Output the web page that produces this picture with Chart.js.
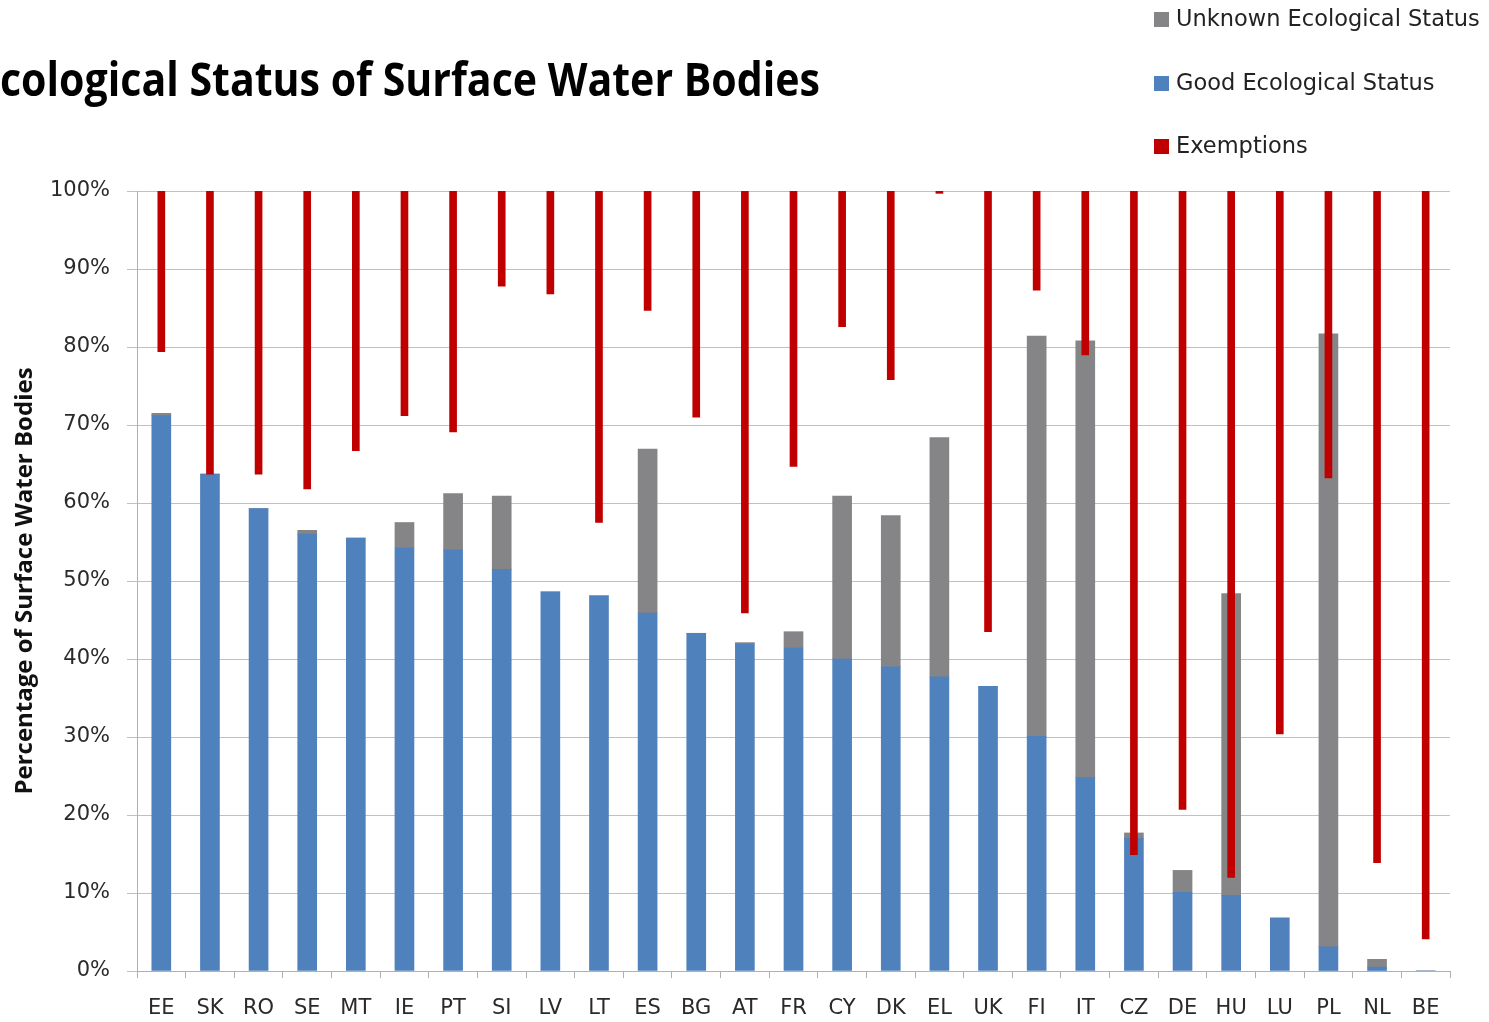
<!DOCTYPE html>
<html>
<head>
<meta charset="utf-8">
<script src="https://cdn.jsdelivr.net/npm/chart.js@4.4.1/dist/chart.umd.min.js"></script>
<style>
  html, body { margin: 0; padding: 0; background: #fff; }
  #wrap { width: 1489px; height: 1022px; position: relative; }
</style>
</head>
<body>
<div id="wrap"><canvas id="myChart" width="1489" height="1022"></canvas></div>
<script>
const countries = ["EE", "SK", "RO", "SE", "MT", "IE", "PT", "SI", "LV", "LT", "ES", "BG", "AT", "FR",
    "CY", "DK", "EL", "UK", "FI", "IT", "CZ", "DE", "HU", "LU", "PL", "NL", "BE"]

const goodStatus = [71.2, 63.7, 59.3, 56.0, 55.5, 54.3, 54.0, 51.5, 48.6, 48.1, 45.9, 43.3, 41.9, 41.4,
    40.0, 39.0, 37.7, 36.5, 30.1, 24.8, 17.0, 10.1, 9.7, 6.8, 3.1, 0.5, 0]

const unknownStatus = [0.3, 0, 0, 0.5, 0, 3.2, 7.2, 9.4, 0, 0, 21.0, 0, 0.2, 2.1,
    20.9, 19.4, 30.7, 0, 51.3, 56.0, 0.7, 2.8, 38.7, 0, 78.6, 1.0, 0]

// share of water bodies under exemptions, drawn hanging down from 100%
const exemptions = [20.6, 36.3, 36.3, 38.2, 33.3, 28.8, 30.9, 12.2, 13.2, 42.5, 15.3, 29.0, 54.1, 35.3,
    17.4, 24.2, 0.3, 56.5, 12.7, 21.0, 85.1, 79.3, 88.0, 69.6, 36.8, 86.1, 95.9]

const yTickLabels = ["0%", "10%", "20%", "30%", "40%", "50%", "60%", "70%", "80%", "90%", "100%"]

const chartTitle = "Ecological Status of Surface Water Bodies"
const yAxisTitle = "Percentage of Surface Water Bodies"

// title is cut off on the left in the original, so the "E" sits off canvas
const titlePlugin = {
    id: "cutTitle",
    afterDraw(chart) {
        const ctx = chart.ctx
        ctx.save()
        ctx.font = 'bold 47px "Open Sans"'
        ctx.fillStyle = "#000"
        ctx.textBaseline = "alphabetic"
        const full = ctx.measureText(chartTitle).width
        const first = ctx.measureText(chartTitle[0]).width
        const sx = 820 / (full - first)
        ctx.translate(0, 96)
        ctx.scale(sx, 1)
        ctx.fillText(chartTitle, -first, 0)
        ctx.restore()
    }
}

const sideLegend = {
    id: "sideLegend",
    afterDraw(chart) {
        const ctx = chart.ctx
        const rows = [2, 1, 0] // unknown, good, exemptions
        const rowY = [19, 83, 146]
        ctx.save()
        ctx.font = '22.5px "DejaVu Sans"'
        ctx.textBaseline = "middle"
        rows.forEach((di, i) => {
            const ds = chart.data.datasets[di]
            ctx.fillStyle = ds.backgroundColor
            ctx.fillRect(1154, rowY[i] - 7, 15, 15)
            ctx.fillStyle = "#222"
            ctx.fillText(ds.label, 1176, rowY[i] + 1)
        })
        ctx.restore()
    }
}

const ctx = document.getElementById("myChart").getContext("2d")
const chart = new Chart(ctx, {
    type: "bar",
    data: {
        labels: countries,
        datasets: [
            {
                label: "Exemptions",
                backgroundColor: "#c00000",
                data: exemptions.map(v => [100 - v, 100]),
                stack: "ex",
                grouped: false,
                barThickness: 7
            },
            {
                label: "Good Ecological Status",
                backgroundColor: "#4f81bd",
                data: goodStatus,
                stack: "status",
                grouped: false,
                barThickness: 19
            },
            {
                label: "Unknown Ecological Status",
                backgroundColor: "#858487",
                data: unknownStatus,
                stack: "status",
                grouped: false,
                barThickness: 19
            }
        ]
    },
    options: {
        responsive: false,
        animation: false,
        layout: { padding: { top: 191, right: 39, left: 0, bottom: 0 } },
        plugins: {
            legend: { display: false },
            title: { display: false },
            tooltip: { enabled: false }
        },
        scales: {
            x: {
                offset: true,
                grid: { offset: true, drawOnChartArea: false, drawTicks: true, tickLength: 7, color: "#b0b0b0" },
                border: { display: true, color: "#b0b0b0" },
                ticks: { color: "#2a2a2a", font: { family: "DejaVu Sans", size: 21 }, padding: 18, maxRotation: 0, autoSkip: false },
                afterFit: scale => { scale.height = 51 }
            },
            y: {
                stacked: true,
                min: 0,
                max: 100,
                ticks: {
                    stepSize: 10,
                    color: "#2a2a2a",
                    font: { family: "DejaVu Sans", size: 21 },
                    padding: 17,
                    callback: (value, index) => yTickLabels[index]
                },
                grid: { color: "#c0c0c0", tickLength: 10 },
                border: { display: true, color: "#b0b0b0" },
                title: {
                    display: true,
                    text: yAxisTitle,
                    color: "#111",
                    font: { family: "Open Sans", size: 24, weight: "bold" },
                    padding: { top: 11, bottom: 0 }
                },
                afterFit: scale => { scale.width = 137 }
            }
        }
    },
    plugins: [titlePlugin, sideLegend]
})
</script>
</body>
</html>
